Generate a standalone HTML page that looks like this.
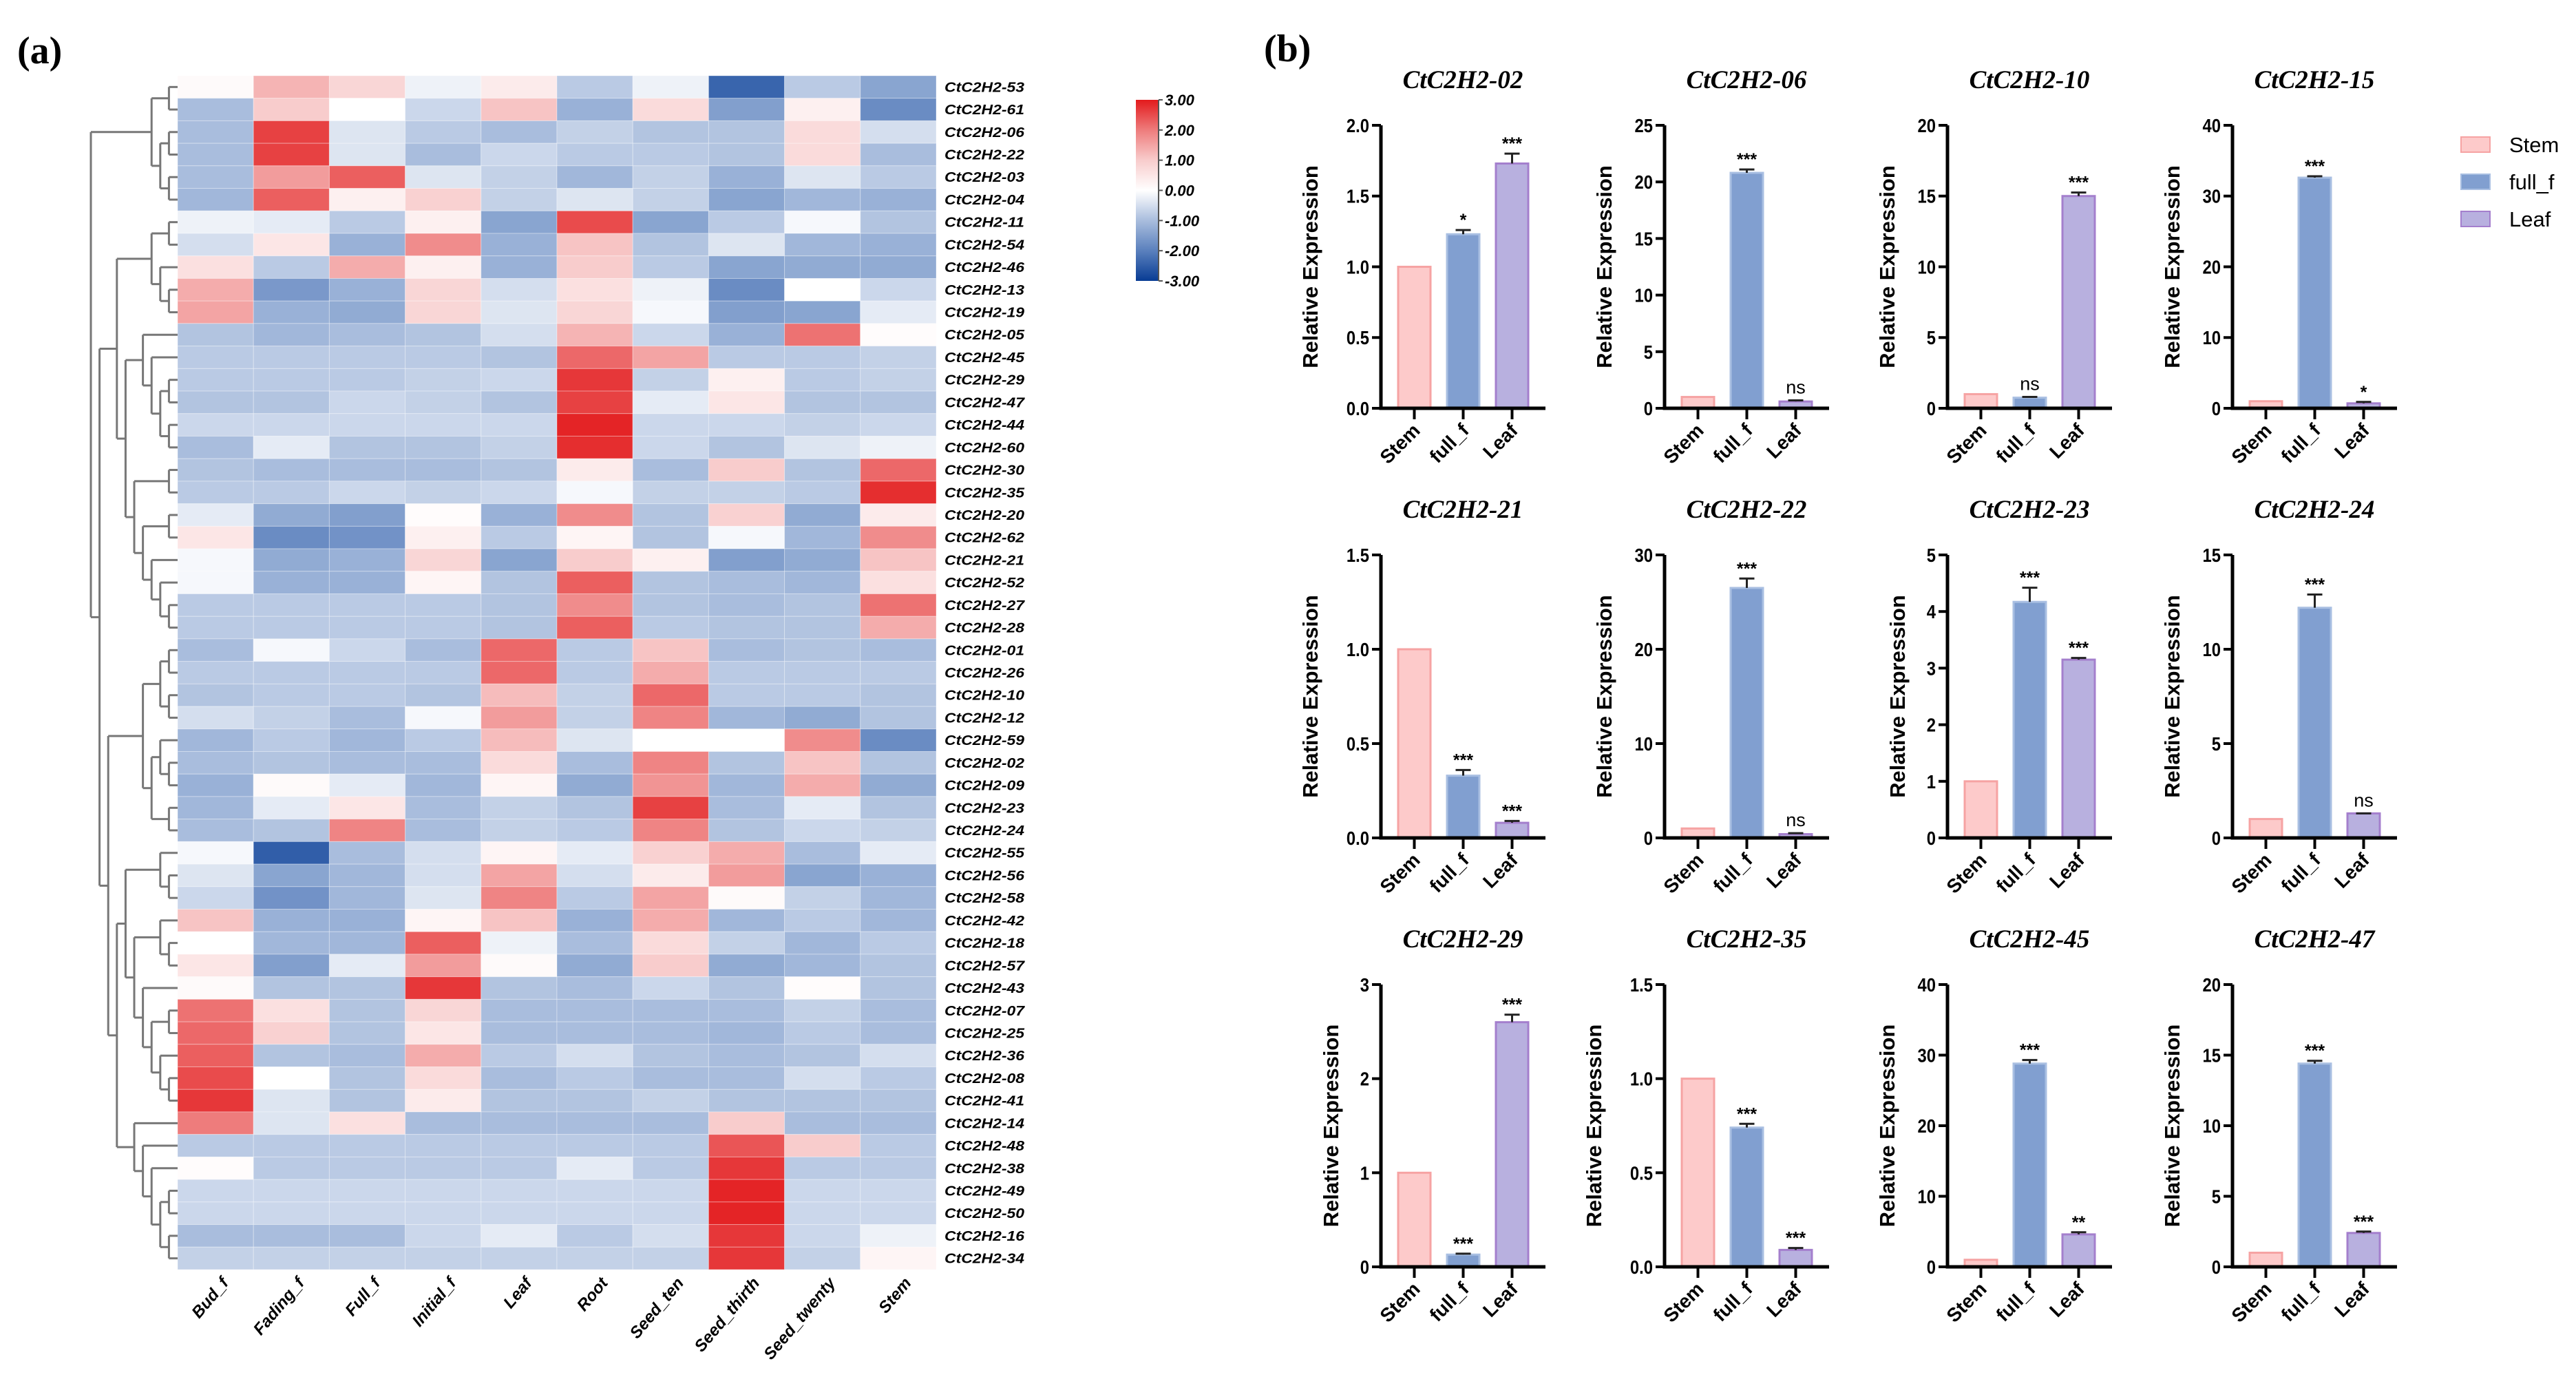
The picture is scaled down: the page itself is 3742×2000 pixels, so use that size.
<!DOCTYPE html>
<html><head><meta charset="utf-8"><style>
html,body{margin:0;padding:0;background:#fff;}
svg{display:block;font-family:"Liberation Sans",sans-serif;}
</style></head><body>
<svg id="fig" xmlns="http://www.w3.org/2000/svg" width="3742" height="2000" viewBox="0 0 3742 2000">
<rect x="0" y="0" width="3742" height="2000" fill="#fff"/>
<text x="25" y="92" font-family="Liberation Serif,serif" font-weight="bold" font-size="56">(a)</text>
<text x="1836" y="89" font-family="Liberation Serif,serif" font-weight="bold" font-size="56">(b)</text>
<defs>
<linearGradient id="cbar" x1="0" y1="0" x2="0" y2="1">
<stop offset="0" stop-color="#e31a1c"/><stop offset="0.1667" stop-color="#ee7c7c"/><stop offset="0.3333" stop-color="#f8cccc"/><stop offset="0.5" stop-color="#ffffff"/><stop offset="0.6667" stop-color="#a9bddd"/><stop offset="0.8333" stop-color="#5a80bd"/><stop offset="1" stop-color="#083c94"/>
</linearGradient>
</defs>
<g id="heat"></g>
<g id="dendro"></g>
<g id="cb"></g>
<g id="bars"></g>
<g id="legend"></g>
</svg>
<script>
const NS="http://www.w3.org/2000/svg";
const rowLabels=["53","61","06","22","03","04","11","54","46","13","19","05","45","29","47","44","60","30","35","20","62","21","52","27","28","01","26","10","12","59","02","09","23","24","55","56","58","42","18","57","43","07","25","36","08","41","14","48","38","49","50","16","34"];
const colLabels=["Bud_f","Fading_f","Full_f","Initial_f","Leaf","Root","Seed_ten","Seed_thirth","Seed_twenty","Stem"];
const heatValues=[
[0.1,1.3,0.8,-0.2,0.4,-0.8,-0.2,-2.4,-0.8,-1.4],
[-1.0,1.0,0.0,-0.6,1.1,-1.2,0.7,-1.5,0.3,-1.8],
[-1.0,2.6,-0.4,-0.8,-1.0,-0.7,-0.9,-0.9,0.7,-0.5],
[-1.0,2.6,-0.4,-1.0,-0.6,-0.8,-0.8,-0.9,0.7,-1.0],
[-1.0,1.6,2.3,-0.4,-0.7,-1.1,-0.7,-1.2,-0.4,-0.8],
[-1.1,2.3,0.3,0.9,-0.7,-0.4,-0.7,-1.4,-1.1,-1.2],
[-0.2,-0.3,-0.8,0.3,-1.4,2.5,-1.4,-0.8,-0.1,-0.9],
[-0.5,0.5,-1.2,1.8,-1.2,1.1,-0.9,-0.4,-1.1,-1.2],
[0.6,-0.8,1.4,0.3,-1.2,1.0,-0.8,-1.4,-1.3,-1.3],
[1.4,-1.6,-1.2,0.8,-0.5,0.6,-0.2,-1.8,0.0,-0.6],
[1.5,-1.2,-1.3,0.8,-0.4,0.8,-0.1,-1.5,-1.4,-0.3],
[-0.9,-1.1,-1.0,-0.9,-0.5,1.3,-0.6,-1.2,2.1,0.05],
[-0.8,-0.8,-0.8,-0.8,-0.9,2.2,1.5,-0.8,-0.8,-0.7],
[-0.8,-0.8,-0.8,-0.7,-0.6,2.7,-0.7,0.3,-0.8,-0.7],
[-0.9,-0.9,-0.6,-0.7,-0.9,2.6,-0.3,0.5,-0.9,-0.9],
[-0.6,-0.6,-0.6,-0.6,-0.6,2.9,-0.6,-0.6,-0.7,-0.6],
[-1.0,-0.3,-0.9,-0.9,-0.7,2.8,-0.6,-0.9,-0.4,-0.2],
[-0.9,-1.0,-1.0,-1.0,-0.9,0.4,-1.0,1.0,-0.9,2.2],
[-0.8,-0.8,-0.6,-0.7,-0.6,-0.1,-0.7,-0.7,-0.8,2.8],
[-0.3,-1.3,-1.5,0.05,-1.2,1.8,-0.9,0.9,-1.3,0.4],
[0.5,-1.8,-1.7,0.3,-0.8,0.2,-0.9,-0.1,-1.1,1.8],
[-0.1,-1.3,-1.2,0.8,-1.4,1.0,0.3,-1.5,-1.3,1.1],
[-0.1,-1.2,-1.2,0.2,-0.9,2.3,-0.9,-1.0,-1.1,0.6],
[-0.8,-0.8,-0.8,-0.8,-0.9,1.8,-0.9,-1.0,-0.9,2.1],
[-0.8,-0.8,-0.8,-0.8,-0.9,2.3,-0.8,-0.9,-0.9,1.4],
[-1.0,-0.1,-0.6,-1.0,2.2,-0.8,1.1,-1.0,-0.9,-1.0],
[-0.8,-0.8,-0.8,-0.8,2.2,-0.8,1.4,-0.8,-0.8,-0.8],
[-0.9,-0.8,-0.8,-0.9,1.2,-0.7,2.2,-0.8,-0.8,-0.9],
[-0.5,-0.7,-1.0,-0.1,1.6,-0.7,1.9,-1.1,-1.3,-0.9],
[-1.1,-0.8,-1.1,-0.8,1.2,-0.4,0.0,0.0,1.8,-1.8],
[-1.0,-0.9,-1.0,-1.0,0.7,-1.0,1.9,-0.9,1.1,-0.9],
[-1.2,0.1,-0.3,-1.1,0.2,-1.3,1.7,-1.1,1.4,-1.3],
[-1.1,-0.3,0.5,-1.0,-0.7,-0.9,2.6,-1.0,-0.3,-0.9],
[-1.0,-0.9,1.9,-1.0,-0.7,-0.8,1.9,-0.9,-0.6,-0.7],
[-0.1,-2.5,-1.0,-0.5,0.2,-0.3,0.9,1.4,-1.0,-0.3],
[-0.4,-1.4,-1.1,-0.5,1.5,-0.5,0.4,1.6,-1.4,-1.2],
[-0.6,-1.7,-1.1,-0.4,1.9,-0.8,1.5,0.1,-0.7,-1.1],
[1.1,-1.2,-1.2,0.2,1.1,-1.2,1.4,-1.1,-0.8,-1.1],
[0.0,-1.1,-1.1,2.3,-0.2,-1.0,0.7,-0.7,-1.1,-0.8],
[0.5,-1.5,-0.3,1.6,0.1,-1.3,1.0,-1.3,-1.1,-0.9],
[0.1,-0.9,-0.9,2.7,-0.9,-1.0,-0.6,-0.9,0.05,-0.9],
[2.1,0.6,-0.9,0.8,-1.0,-1.0,-1.0,-1.0,-0.7,-1.0],
[2.2,0.9,-0.9,0.5,-1.0,-1.0,-1.0,-1.1,-0.8,-1.0],
[2.3,-0.9,-1.0,1.4,-0.8,-0.5,-0.9,-1.0,-0.9,-0.5],
[2.5,0.0,-0.9,0.7,-1.0,-0.8,-1.0,-1.0,-0.5,-0.8],
[2.7,-0.4,-0.9,0.4,-0.9,-0.9,-0.7,-0.9,-0.9,-0.9],
[2.0,-0.4,0.6,-1.0,-1.0,-1.0,-1.0,1.0,-1.0,-1.0],
[-0.8,-0.8,-0.8,-0.8,-0.8,-0.8,-0.8,2.4,1.0,-0.8],
[0.05,-0.8,-0.8,-0.8,-0.8,-0.3,-0.8,2.7,-0.8,-0.8],
[-0.6,-0.6,-0.6,-0.6,-0.6,-0.6,-0.6,2.9,-0.6,-0.6],
[-0.6,-0.6,-0.6,-0.6,-0.6,-0.6,-0.6,2.9,-0.6,-0.6],
[-1.0,-1.0,-1.0,-0.6,-0.3,-0.8,-0.5,2.7,-0.6,-0.2],
[-0.7,-0.7,-0.7,-0.7,-0.7,-0.7,-0.7,2.7,-0.7,0.2]];
const legendTicks=["3.00","2.00","1.00","0.00","-1.00","-2.00","-3.00"];
const tree=[[["53","61"],[["06","22"],["03","04"]]],
 [[[["11","54"],["46",["13","19"]]],[["05",["45",[["29","47"],["44","60"]]]],[["30","35"],[["20","62"],["21",["52",["27","28"]]]]]]],
  [[[["01","26"],["10","12"]],[["59",["02","09"]],["23","24"]]],
   [[["55",["56","58"]],[["42",["18","57"]],["43",[["07","25"],["36",["08","41"]]]]]],["14",["48",["38",[["49","50"],["16","34"]]]]]]]]];

// bar chart data
const genes=["CtC2H2-02","CtC2H2-06","CtC2H2-10","CtC2H2-15","CtC2H2-21","CtC2H2-22","CtC2H2-23","CtC2H2-24","CtC2H2-29","CtC2H2-35","CtC2H2-45","CtC2H2-47"];
const groups=["Stem","full_f","Leaf"];
const stemVals=[1,1,1,1,1,1,1,1,1,1,1,1];
const fullVals=[1.23,20.8,0.75,32.6,0.33,26.5,4.17,12.2,0.13,0.74,28.8,14.4];
const leafVals=[1.73,0.6,15.0,0.7,0.08,0.4,3.15,1.3,2.6,0.09,4.6,2.4];
const fullErr=[0.03,0.3,0.05,0.2,0.03,1.0,0.25,0.7,0.01,0.02,0.5,0.2];
const leafErr=[0.07,0.1,0.25,0.2,0.01,0.1,0.03,0.0,0.08,0.01,0.3,0.1];
const fullSig=["*","***","ns","***","***","***","***","***","***","***","***","***"];
const leafSig=["***","ns","***","*","***","ns","***","ns","***","***","**","***"];
const yMax=[2,25,20,40,1.5,30,5,15,3,1.5,40,20];
const yStep=[0.5,5,5,10,0.5,10,1,5,1,0.5,10,5];
const yDec=[1,0,0,0,1,0,0,0,0,1,0,0];

function el(tag,attrs,parent,text){const e=document.createElementNS(NS,tag);for(const k in attrs)e.setAttribute(k,attrs[k]);if(text!==undefined)e.textContent=text;parent.appendChild(e);return e;}

const cStops=[[-3,[8,60,148]],[-2,[90,128,189]],[-1,[169,189,221]],[0,[255,255,255]],[1,[248,204,204]],[2,[238,124,124]],[3,[227,26,28]]];
function color(v){v=Math.max(-3,Math.min(3,v));for(let i=0;i<cStops.length-1;i++){const a=cStops[i],b=cStops[i+1];if(v<=b[0]){const t=(v-a[0])/(b[0]-a[0]);const c=a[1].map((x,j)=>Math.round(x+(b[1][j]-x)*t));return `rgb(${c})`;}}return "rgb(227,26,28)";}

const HX=258,HY=110,CW=110.2,RH=(1844-110)/53;
const heat=document.getElementById('heat');
heatValues.forEach((row,r)=>{row.forEach((v,c)=>{
  const rc=el('rect',{x:HX+c*CW,y:HY+r*RH,width:CW,height:RH,fill:color(v),stroke:"rgba(255,255,255,0.35)","stroke-width":1},heat);
  
  
});
 const t=el('text',{x:1372,y:HY+r*RH+RH/2+7,"font-size":20,"font-weight":"bold","font-style":"italic",textLength:116,lengthAdjust:"spacingAndGlyphs"},heat,"CtC2H2-"+rowLabels[r]);
 
 
});
colLabels.forEach((l,c)=>{const x=HX+c*CW+CW/2+20,y=1864;
 const t=el('text',{x:x,y:y,"font-size":24,"font-weight":"bold","font-style":"italic","text-anchor":"end",transform:`rotate(-50 ${x} ${y})`},heat,l);
 
 
});

const dg=document.getElementById('dendro');
function layout(n){if(typeof n==="string"){return {y:HY+rowLabels.indexOf(n)*RH+RH/2,h:0};}
 const a=layout(n[0]),b=layout(n[1]);const h=Math.max(a.h,b.h)+1;return {y:(a.y+b.y)/2,h:h,a:a,b:b};}
const root=layout(tree);
const K=(HX-132)/root.h;
function hx(h){return HX-h*K;}
function draw(n){if(!n.a)return;const x=hx(n.h);
 [n.a,n.b].forEach(ch=>{const p=el('path',{d:`M${x},${ch.y}H${hx(ch.h)}`,stroke:"#777","stroke-width":3,fill:"none"},dg);draw(ch);});
 const v=el('path',{d:`M${x},${n.a.y}V${n.b.y}`,stroke:"#777","stroke-width":3,fill:"none"},dg);
 
 
}
draw(root);

const cb=document.getElementById('cb');
const cbr=el('rect',{x:1650,y:145,width:33,height:263,fill:"url(#cbar)"},cb);


el('line',{x1:1683,y1:145,x2:1683,y2:408,stroke:"#555","stroke-width":2},cb);
legendTicks.forEach((l,i)=>{const y=145+i*263/6;
 el('line',{x1:1683,y1:y,x2:1689,y2:y,stroke:"#555","stroke-width":2},cb);
 const t=el('text',{x:1692,y:y+8,"font-size":22,"font-weight":"bold","font-style":"italic"},cb,l);
 
 
});

const fills=["#fdcaca","#819fd0","#b8b0df"],strokes=["#f6a3a3","#a9bfe2","#a47fcd"];
const axX=[2006,2418,2829,3243],axTop=[182,806,1430],axBase=[593,1217,1840];
const bars=document.getElementById('bars');
genes.forEach((g,i)=>{
 const col=i%4,row=Math.floor(i/4);const x0=axX[col],top=axTop[row],base=axBase[row];
 const gg=el('g',{},bars);
 
 
 const ys=v=>base-(v/yMax[i])*(base-top);
 const t=el('text',{x:x0+119,y:top-54,"font-family":"Liberation Serif,serif","font-size":37,"font-weight":"bold","font-style":"italic","text-anchor":"middle"},gg,g);
 
 
 const vals=[stemVals[i],fullVals[i],leafVals[i]],errs=[0,fullErr[i],leafErr[i]],sig=["",fullSig[i],leafSig[i]];
 let maxW=0;
 for(let v=0;v<=yMax[i]+1e-9;v+=yStep[i]){const y=ys(v);const s=v.toFixed(yDec[i]);maxW=Math.max(maxW,s.length*15);
  el('line',{x1:x0-13,y1:y,x2:x0,y2:y,stroke:"#000","stroke-width":4},gg);
  const tl=el('text',{x:x0-17,y:y+10,"font-size":28,"font-weight":"bold","text-anchor":"end",transform:`translate(${x0-17} 0) scale(0.85 1) translate(${-(x0-17)} 0)`},gg,s);
  
  
 }
 const tx=x0-17-maxW-30,ty=(top+base)/2;
 const yt=el('text',{x:tx,y:ty,"font-size":31,"font-weight":"bold","text-anchor":"middle",transform:`rotate(-90 ${tx} ${ty})`},gg,"Relative Expression");
 
 
 vals.forEach((v,k)=>{const bx=x0+25+k*71,cx=bx+23.5;
  const r=el('rect',{x:bx,y:ys(v),width:47,height:base-ys(v),fill:fills[k],stroke:strokes[k],"stroke-width":3},gg);
  
  
  let topY=ys(v);
  if(k>0){const ey=ys(v+errs[k]);
   el('line',{x1:cx,y1:ys(v),x2:cx,y2:ey,stroke:"#222","stroke-width":3},gg);
   el('line',{x1:cx-11,y1:ey,x2:cx+11,y2:ey,stroke:"#222","stroke-width":3},gg);
   topY=ey;
   const st=el('text',{x:cx,y:topY-(sig[k]==="ns"?10:6),"font-size":sig[k]==="ns"?27:25,"font-weight":sig[k]==="ns"?"normal":"bold","text-anchor":"middle"},gg,sig[k]);
   
   
  }
  el('line',{x1:cx,y1:base,x2:cx,y2:base+16,stroke:"#000","stroke-width":4},gg);
  const lx=cx+10,ly=base+34;
  const xl=el('text',{x:lx,y:ly,"font-size":28,"font-weight":"bold","text-anchor":"end",transform:`rotate(-45 ${lx} ${ly})`},gg,groups[k]);
  
  
 });
 el('path',{d:`M${x0},${top}V${base}H${x0+239}`,stroke:"#000","stroke-width":5,fill:"none"},gg);
});

const lg=document.getElementById('legend');
groups.forEach((gname,k)=>{const y=199+k*54;
 const r=el('rect',{x:3575,y:y,width:42,height:22,fill:fills[k],stroke:strokes[k],"stroke-width":2},lg);
 
 
 const t=el('text',{x:3645,y:y+22,"font-size":31},lg,gname);
 
 
});
</script>
</body></html>
